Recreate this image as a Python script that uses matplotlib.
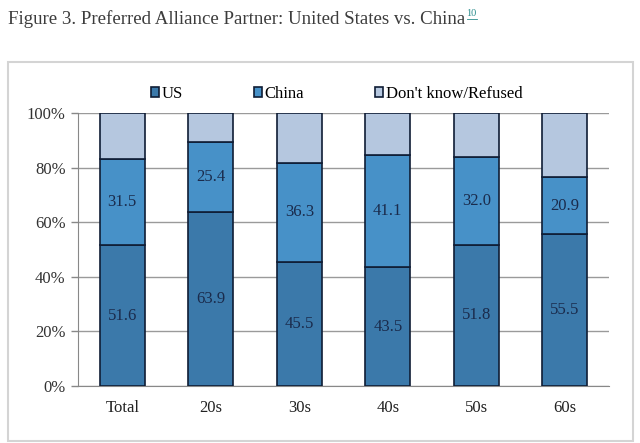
import matplotlib.pyplot as plt
import matplotlib.patches as mpatches
import numpy as np

# Data
groups = ['Total', '20s', '30s', '40s', '50s', '60s']
us = [51.6, 63.9, 45.5, 43.5, 51.8, 55.5]
china = [31.5, 25.4, 36.3, 41.1, 32.0, 20.9]
dk = [16.9, 10.7, 18.2, 15.4, 16.2, 23.6]

colors = ['#3b79aa', '#4791c8', '#b5c7df']
edge = '#0f1d35'
serif = 'Liberation Serif'

fig = plt.figure(figsize=(6.4, 4.43), dpi=100)

# light frame around the chart area
frame = mpatches.Rectangle((8 / 640, 1 - 441 / 443), 625 / 640, 379 / 443,
                           transform=fig.transFigure, fill=False,
                           edgecolor='#d4d4d4', linewidth=1.5)
fig.add_artist(frame)

title = fig.text(8 / 640, 1 - 19 / 443,
                 'Figure 3. Preferred Alliance Partner: United States vs. China',
                 fontsize=13.6, family=serif, color='#3c3c3c', va='center')

ax = fig.add_axes([78 / 640, 1 - 386 / 443, 531 / 640, 273 / 443])

x = np.arange(len(groups)) + 0.5
width = 0.51
us = np.array(us)
china = np.array(china)
dk = np.array(dk)

b1 = ax.bar(x, us, width, color=colors[0], edgecolor=edge, linewidth=1.2, label='US', zorder=3)
b2 = ax.bar(x, china, width, bottom=us, color=colors[1], edgecolor=edge, linewidth=1.2, label='China', zorder=3)
b3 = ax.bar(x, dk, width, bottom=us + china, color=colors[2], edgecolor=edge, linewidth=1.2,
            label="Don't know/Refused", zorder=3)

for xi, u, c in zip(x, us, china):
    ax.text(xi, u / 2, f'{u:.1f}', ha='center', va='center', family=serif,
            fontsize=12, color='#1a2b4c', zorder=4)
    ax.text(xi, u + c / 2, f'{c:.1f}', ha='center', va='center', family=serif,
            fontsize=12, color='#1a2b4c', zorder=4)

ax.set_xlim(0, len(groups))
ax.set_ylim(0, 100)
ax.set_yticks(np.arange(0, 101, 20))
ax.set_yticklabels([f'{v}%' for v in range(0, 101, 20)], family=serif, fontsize=12, color='#333333')
ax.set_xticks(x)
ax.set_xticklabels(groups, family=serif, fontsize=12, color='#222222')
ax.tick_params(axis='x', length=0, pad=10)
ax.tick_params(axis='y', length=5, color='#888888', width=1, pad=4)
ax.yaxis.grid(True, color='#9a9a9a', linewidth=1, zorder=0)
for s in ['top', 'right']:
    ax.spines[s].set_visible(False)
ax.spines['left'].set_color('#888888')
ax.spines['bottom'].set_color('#888888')

leg = ax.legend(handles=[b1, b2, b3], loc='center', bbox_to_anchor=(0.487, 1 + 19 / 273),
                ncol=3, frameon=False, prop={'family': serif, 'size': 12},
                handlelength=0.5, handleheight=0.5, handletextpad=0.15, columnspacing=4.25,
                borderaxespad=0)
for h in leg.legend_handles:
    h.set_linewidth(1.2)

# superscript footnote marker after the title
fig.canvas.draw()
bb = title.get_window_extent().transformed(fig.transFigure.inverted())
fig.text(bb.x1 + 0.002, 1 - 14 / 443, '10', fontsize=7.5, family=serif,
         color='#2a8c8c', va='center')
fig.add_artist(plt.Line2D([bb.x1 + 0.002, bb.x1 + 0.018], [1 - 19 / 443] * 2,
                          transform=fig.transFigure, color='#2a8c8c', linewidth=0.6))

plt.savefig('out.png', dpi=100)
